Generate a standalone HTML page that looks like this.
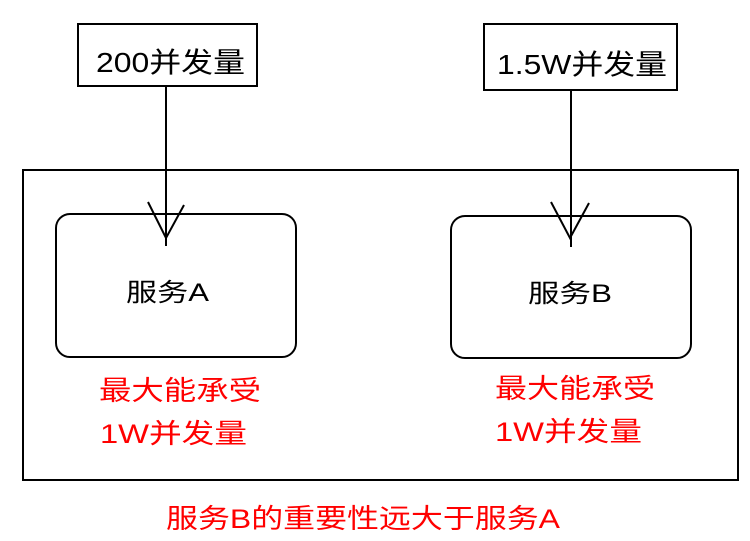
<!DOCTYPE html>
<html><head><meta charset="utf-8"><style>
html,body{margin:0;padding:0;background:#fff;}
svg{display:block;}
text{font-family:"Liberation Sans","Noto Sans CJK SC",sans-serif;}
</style></head><body>
<svg width="750" height="541" viewBox="0 0 750 541" xmlns="http://www.w3.org/2000/svg">
<g fill="none" stroke="#000" stroke-width="2">
<rect x="78" y="24" width="179" height="62"/>
<rect x="484" y="24" width="193" height="66"/>
<rect x="23" y="170" width="715" height="310"/>
<rect x="56" y="214" width="240" height="143" rx="14"/>
<rect x="451" y="216" width="240" height="142" rx="14"/>
<line x1="166" y1="86" x2="166" y2="246"/>
<line x1="571" y1="90" x2="571" y2="247"/>
<polyline points="148,202 166,238 184,205"/>
<polyline points="551,202 570,238 589,203"/>
</g>
<g fill="#000">
<text x="96" y="72" font-size="28" textLength="149" lengthAdjust="spacingAndGlyphs">200并发量</text>
<text x="497" y="74" font-size="28" textLength="170" lengthAdjust="spacingAndGlyphs">1.5W并发量</text>
<text x="126" y="301" font-size="25" textLength="83" lengthAdjust="spacingAndGlyphs">服务A</text>
<text x="528" y="302" font-size="25" textLength="84" lengthAdjust="spacingAndGlyphs">服务B</text>
</g>
<g fill="#ff0000">
<text x="99" y="400" font-size="27" textLength="162" lengthAdjust="spacingAndGlyphs">最大能承受</text>
<text x="100" y="443" font-size="27" textLength="147" lengthAdjust="spacingAndGlyphs">1W并发量</text>
<text x="495" y="398" font-size="27" textLength="160" lengthAdjust="spacingAndGlyphs">最大能承受</text>
<text x="495" y="441" font-size="27" textLength="147" lengthAdjust="spacingAndGlyphs">1W并发量</text>
<text x="166" y="528" font-size="27" textLength="394" lengthAdjust="spacingAndGlyphs">服务B的重要性远大于服务A</text>
</g>
</svg>
</body></html>
